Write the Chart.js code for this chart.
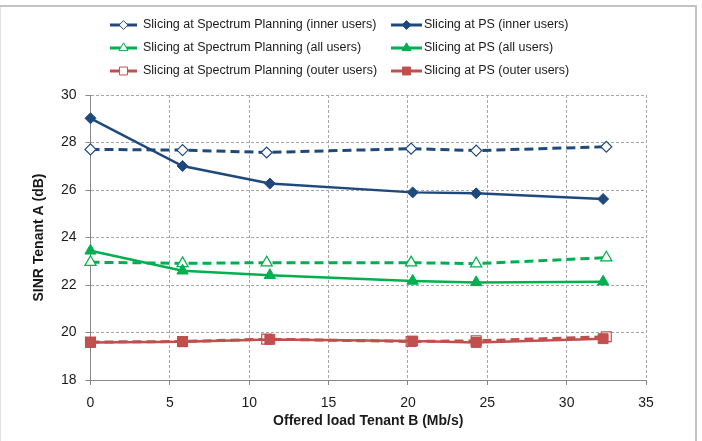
<!DOCTYPE html>
<html>
<head>
<meta charset="utf-8">
<script src="https://cdn.jsdelivr.net/npm/chart.js@4/dist/chart.umd.min.js"></script>
<style>
  html, body { margin: 0; padding: 0; background: #fff; }
  #wrap { position: relative; width: 702px; height: 441px; }
</style>
</head>
<body>
<div id="wrap"><canvas id="sinr" width="702" height="441"></canvas></div>
<script>
// offered load of tenant B (x) for the two slicing schemes
const loadSP = [0, 5.8, 11.1, 20.2, 24.3, 32.5];
const loadPS = [0, 5.8, 11.3, 20.3, 24.3, 32.3];
// SINR of tenant A (dB)
const spInner = [27.71, 27.68, 27.58, 27.74, 27.66, 27.82];
const psInner = [29.02, 27.01, 26.27, 25.90, 25.86, 25.62];
const spAll = [22.96, 22.91, 22.94, 22.94, 22.90, 23.15];
const psAll = [23.44, 22.60, 22.41, 22.17, 22.11, 22.14];
const spOuter = [19.60, 19.62, 19.72, 19.62, 19.65, 19.82];
const psOuter = [19.58, 19.61, 19.71, 19.64, 19.58, 19.74];
const seriesNames = [
  "Slicing at Spectrum Planning (inner users)", "Slicing at PS (inner users)",
  "Slicing at Spectrum Planning (all users)", "Slicing at PS (all users)",
  "Slicing at Spectrum Planning (outer users)", "Slicing at PS (outer users)"
];
const xTicks = [0, 5, 10, 15, 20, 25, 30, 35];
const yTicks = [18, 20, 22, 24, 26, 28, 30];

const BLUE = '#1f497d', GREEN = '#00b050', RED = '#c0504d';

function pts(xs, ys) {
  return xs.map(function (x, i) { return { x: x, y: ys[i] }; });
}

function makeSet(i, xs, ys, color, style, dashed, radius) {
  return {
    label: seriesNames[i],
    data: pts(xs, ys),
    borderColor: color,
    backgroundColor: dashed ? '#fff' : color,
    pointBackgroundColor: dashed ? '#fff' : color,
    pointBorderColor: color,
    pointBorderWidth: dashed ? 1.2 : 1,
    pointStyle: style,
    pointRadius: radius,
    borderWidth: dashed ? 3 : 2.5,
    borderDash: dashed ? [9, 5] : [],
    tension: 0,
    clip: false,
    order: dashed ? 1 : 0   // solid PS lines on top
  };
}

const datasets = [
  makeSet(0, loadSP, spInner, BLUE, 'rectRot', true, 5.5),
  makeSet(1, loadPS, psInner, BLUE, 'rectRot', false, 5.5),
  makeSet(2, loadSP, spAll, GREEN, 'triangle', true, 6.5),
  makeSet(3, loadPS, psAll, GREEN, 'triangle', false, 6.5),
  makeSet(4, loadSP, spOuter, RED, 'rect', true, 7),
  makeSet(5, loadPS, psOuter, RED, 'rect', false, 7)
];

// white background and the thin outer frame
const framePlugin = {
  id: 'frame',
  beforeDraw: function (chart) {
    const ctx = chart.ctx;
    ctx.save();
    ctx.fillStyle = '#fff';
    ctx.fillRect(0, 0, chart.width, chart.height);
    ctx.lineWidth = 2;
    ctx.strokeStyle = '#c3c3c3';
    ctx.beginPath();
    ctx.moveTo(0, 6);
    ctx.lineTo(696, 6);
    ctx.lineTo(696, 460);
    ctx.stroke();
    ctx.strokeStyle = '#e4e4e4';
    ctx.lineWidth = 1;
    ctx.beginPath();
    ctx.moveTo(0.5, 7);
    ctx.lineTo(0.5, 460);
    ctx.stroke();
    ctx.restore();
  }
};

function marker(ctx, style, x, y, r, fill, color) {
  ctx.beginPath();
  if (style === 'rectRot') {
    ctx.moveTo(x - r, y); ctx.lineTo(x, y - r); ctx.lineTo(x + r, y); ctx.lineTo(x, y + r);
  } else if (style === 'triangle') {
    ctx.moveTo(x, y - r);
    ctx.lineTo(x + r * 0.866, y + r * 0.5);
    ctx.lineTo(x - r * 0.866, y + r * 0.5);
  } else {
    const s = r * 0.707;
    ctx.rect(x - s, y - s, 2 * s, 2 * s);
  }
  ctx.closePath();
  ctx.fillStyle = fill;
  ctx.fill();
  ctx.strokeStyle = color;
  ctx.lineWidth = 1;
  ctx.stroke();
}

// two column legend like the original
const legendPlugin = {
  id: 'twoColLegend',
  afterDraw: function (chart) {
    const ctx = chart.ctx;
    const cols = [{ x0: 110, x1: 137, tx: 143 }, { x0: 391, x1: 422, tx: 424 }];
    const rows = [25, 48, 71];
    ctx.save();
    chart.data.datasets.forEach(function (ds, i) {
      const c = cols[i % 2];
      const y = rows[Math.floor(i / 2)];
      ctx.strokeStyle = ds.borderColor;
      ctx.lineWidth = 3;
      ctx.setLineDash([]);
      ctx.beginPath();
      ctx.moveTo(c.x0, y);
      ctx.lineTo(c.x1, y);
      ctx.stroke();
      marker(ctx, ds.pointStyle, (c.x0 + c.x1) / 2, y, ds.pointRadius * 0.8, ds.pointBackgroundColor, ds.borderColor);
      ctx.fillStyle = '#1a1a1a';
      ctx.font = '12.5px "Liberation Sans", Arial, sans-serif';
      ctx.textBaseline = 'middle';
      ctx.textAlign = 'left';
      ctx.fillText(ds.label, c.tx, y);
    });
    ctx.restore();
  }
};

Chart.defaults.font.family = '"Liberation Sans", Arial, sans-serif';
Chart.defaults.color = '#1a1a1a';

new Chart(document.getElementById('sinr'), {
  type: 'line',
  data: { datasets: datasets },
  plugins: [framePlugin, legendPlugin],
  options: {
    responsive: false,
    animation: false,
    layout: { padding: { left: 0, top: 95, right: 56, bottom: 6 } },
    plugins: { legend: { display: false }, tooltip: { enabled: false } },
    scales: {
      x: {
        type: 'linear',
        min: 0,
        max: 35,
        afterFit: function (s) { s.height = 55; },
        afterBuildTicks: function (s) { s.ticks = xTicks.map(function (v) { return { value: v }; }); },
        ticks: { font: { size: 14 }, padding: 10, maxRotation: 0 },
        grid: { color: '#a6a6a6', lineWidth: 1, tickLength: 5, tickColor: '#868686' },
        border: { color: '#868686', width: 1, dash: [3, 2] },
        title: { display: true, text: 'Offered load Tenant B (Mb/s)', font: { size: 14, weight: 'bold' }, padding: { top: 0, bottom: 5 } }
      },
      y: {
        type: 'linear',
        min: 18,
        max: 30,
        afterFit: function (s) { s.width = 90.5; },
        afterBuildTicks: function (s) { s.ticks = yTicks.map(function (v) { return { value: v }; }); },
        ticks: { font: { size: 14 }, padding: 9 },
        grid: { color: '#a6a6a6', lineWidth: 1, tickLength: 5, tickColor: '#868686' },
        border: { color: '#868686', width: 1, dash: [3, 2] },
        title: { display: true, text: 'SINR Tenant A (dB)', font: { size: 14, weight: 'bold' }, padding: { top: 31, bottom: 0 } }
      }
    }
  }
});
</script>
</body>
</html>
